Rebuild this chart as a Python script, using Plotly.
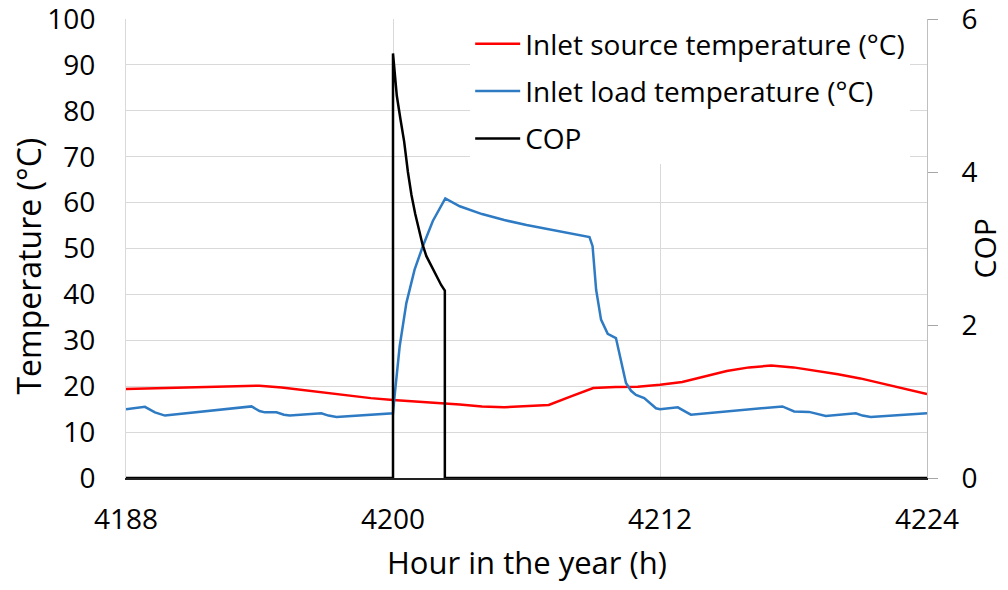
import plotly.graph_objects as go

# Inlet source temperature (°C)
src_hour = [4188, 4189, 4190, 4191, 4192, 4193, 4194, 4195, 4196, 4197, 4198, 4199,
            4200, 4201, 4202, 4203, 4204, 4205, 4206, 4207, 4208, 4209, 4210, 4211,
            4212, 4213, 4214, 4215, 4216, 4217, 4218, 4219, 4220, 4221, 4222, 4223, 4224]
src_temp = [19.4, 19.5, 19.7, 19.8, 19.9, 20.0, 20.1, 19.7, 19.1, 18.5, 17.9, 17.4,
            17.0, 16.6, 16.35, 16.0, 15.6, 15.4, 15.6, 15.9, 17.8, 19.6, 19.8, 19.9,
            20.3, 20.9, 22.1, 23.3, 24.1, 24.5, 24.1, 23.4, 22.6, 21.7, 20.6, 19.5, 18.3]

# Inlet load temperature (°C)
load_hour = [4188.0, 4188.5, 4188.85, 4189.3, 4189.75, 4193.64, 4194.0, 4194.24, 4194.76,
             4195.1, 4195.36, 4196.78, 4197.1, 4197.46, 4199.95,
             4200.0, 4200.07, 4200.3, 4200.6, 4200.97, 4201.34, 4201.79, 4202.35,
             4203.0, 4204.0, 4205.0, 4206.0, 4207.0, 4208.0, 4208.83,
             4208.97, 4209.13, 4209.35, 4209.65, 4210.02, 4210.25, 4210.47, 4210.7,
             4210.92, 4211.29, 4211.5, 4211.82, 4212.0,
             4212.5, 4212.8, 4213.2, 4213.39, 4217.5, 4217.8, 4218.03, 4218.7,
             4219.1, 4219.45, 4220.8, 4221.1, 4221.47, 4224.0]
load_temp = [15.0, 15.2, 15.5, 14.3, 13.6, 15.6, 14.6, 14.3, 14.3,
             13.8, 13.6, 14.1, 13.6, 13.3, 14.0,
             14.1, 17.8, 28.7, 38.1, 45.4, 50.5, 56.0, 60.9,
             59.2, 57.5, 56.2, 55.1, 54.2, 53.3, 52.5,
             50.5, 41.0, 34.5, 31.4, 30.5, 25.8, 20.7, 19.0,
             18.1, 17.4, 16.5, 15.2, 15.0,
             15.2, 15.4, 14.3, 13.8, 15.6, 14.9, 14.5, 14.4,
             13.9, 13.5, 14.1, 13.6, 13.3, 14.1]

# COP
cop_hour = [4188, 4200, 4200, 4200.1, 4200.17, 4200.33, 4200.5, 4200.67, 4200.83,
            4201.0, 4201.17, 4201.33, 4201.5, 4201.67, 4201.83, 4202.0, 4202.17,
            4202.33, 4202.33, 4224]
cop_val = [0, 0, 5.55, 5.2, 5.0, 4.7, 4.4, 4.0, 3.7,
           3.45, 3.25, 3.05, 2.9, 2.8, 2.7, 2.6, 2.52,
           2.45, 0, 0]

x_ticks = [4188, 4200, 4212, 4224]
temp_ticks = [0, 10, 20, 30, 40, 50, 60, 70, 80, 90, 100]
cop_ticks = [0, 2, 4, 6]

FONT = "Open Sans"
GRID = "#d9d9d9"

fig = go.Figure()
fig.add_trace(go.Scatter(x=src_hour, y=src_temp, mode="lines", name="Inlet source temperature (°C)",
                         line=dict(color="#ff0000", width=2.5), legendgroup="a"))
fig.add_trace(go.Scatter(x=load_hour, y=load_temp, mode="lines", name="Inlet load temperature (°C)",
                         line=dict(color="#2e7bc4", width=2.5), legendgroup="b"))
fig.add_trace(go.Scatter(x=cop_hour, y=cop_val, mode="lines", name="COP", yaxis="y2",
                         line=dict(color="#000000", width=2.5), legendgroup="c"))

fig.update_layout(
    width=992, height=574,
    margin=dict(l=118, r=73, t=11, b=104, autoexpand=False),
    paper_bgcolor="white", plot_bgcolor="white",
    font=dict(family=FONT, size=28, color="#000000"),
    xaxis=dict(range=[4188, 4224], tickvals=x_ticks, ticktext=[str(v) for v in x_ticks],
               showgrid=True, gridcolor=GRID, gridwidth=1, zeroline=False,
               showline=True, linecolor="#222222", linewidth=2,
               ticks="", ticklabelstandoff=15, automargin=False, ticklabeloverflow="allow"),
    yaxis=dict(range=[0, 100], tickvals=temp_ticks, showgrid=True, gridcolor=GRID, gridwidth=1,
               zeroline=False, showline=True, linecolor=GRID, ticks="", ticklabelstandoff=24,
               automargin=False, ticklabeloverflow="allow"),
    yaxis2=dict(range=[0, 6], tickvals=cop_ticks, overlaying="y", side="right",
                showgrid=False, zeroline=False, showline=True, linecolor="#bfbfbf",
                ticks="outside", ticklen=10, tickwidth=1, tickcolor="#a6a6a6",
                ticklabelstandoff=18, automargin=False, ticklabeloverflow="allow"),
    legend=dict(x=0.979, y=1.0, xanchor="right", yanchor="top", bgcolor="white",
                traceorder="grouped", tracegroupgap=8, font=dict(size=28),
                itemwidth=45),
    annotations=[
        dict(text="Hour in the year (h)", xref="paper", yref="paper", x=0.5, y=0.0,
             xanchor="center", yanchor="middle", yshift=-84, showarrow=False,
             font=dict(size=31)),
        dict(text="Temperature (°C)", textangle=-90, xref="paper", yref="paper",
             x=0.0, y=0.5, xanchor="center", yanchor="middle", xshift=-98, yshift=-18,
             showarrow=False, font=dict(size=32)),
        dict(text="COP", textangle=-90, xref="paper", yref="paper",
             x=1.0, y=0.5, xanchor="center", yanchor="middle",
             xshift=57, showarrow=False, font=dict(size=30)),
    ],
    showlegend=True,
)

fig.write_html("out.html")
